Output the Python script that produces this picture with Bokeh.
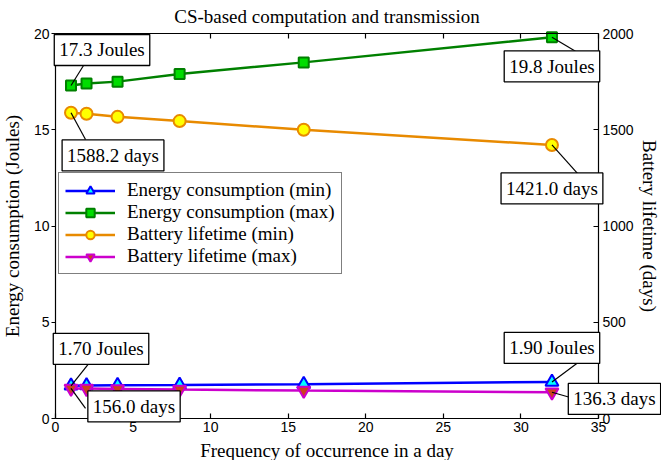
from bokeh.plotting import figure
from bokeh.models import (Range1d, LinearAxis, FixedTicker, Label, Legend,
                          LegendItem)
from bokeh.embed import file_html
from bokeh.resources import INLINE

# Frequency of occurrence per day
freq = [1, 2, 4, 8, 16, 32]
# Energy consumption in Joules (left axis)
energy_min = [1.70, 1.71, 1.73, 1.74, 1.78, 1.90]
energy_max = [17.3, 17.4, 17.5, 17.9, 18.5, 19.8]
# Battery lifetime in days (right axis)
life_min = [1588.2, 1583.0, 1567.0, 1545.0, 1500.0, 1421.0]
life_max = [156.0, 155.2, 153.6, 150.5, 145.0, 136.3]

x_ticks = [0, 5, 10, 15, 20, 25, 30, 35]
left_ticks = [0, 5, 10, 15, 20]
right_ticks = [0, 500, 1000, 1500, 2000]

SERIF = "Liberation Serif"
SANS = "Liberation Sans"
FONT = "19px"

# Canvas and the box spanned by the axes (pixels); the frame fills the
# canvas so that call-outs can hang over the axes without being clipped.
W, H = 661, 460
AX_L, AX_R, AX_T, AX_B = 55, 598, 33, 418
X_MAX, Y_MAX, D_MAX = 35, 20, 2000

px_x = X_MAX / (AX_R - AX_L)          # data units per pixel
px_left = Y_MAX / (AX_B - AX_T)
px_days = D_MAX / (AX_B - AX_T)

x_range = Range1d(-AX_L * px_x, X_MAX + (W - AX_R) * px_x)
y_range = Range1d(-(H - AX_B) * px_left, Y_MAX + AX_T * px_left)
d_range = Range1d(-(H - AX_B) * px_days, D_MAX + AX_T * px_days)

p = figure(width=W, height=H, output_backend="svg", toolbar_location=None,
           x_range=x_range, y_range=y_range, x_axis_location=None,
           y_axis_location=None, min_border=0)
p.extra_y_ranges = {"days": d_range}

p.xgrid.visible = False
p.ygrid.visible = False
p.outline_line_color = None
p.background_fill_color = "white"
p.border_fill_color = "white"


def make_axis(side, ticks, fixed, bounds, tick_in, tick_out, standoff,
              label=None, label_standoff=0, **kw):
    ax = LinearAxis(ticker=FixedTicker(ticks=ticks), fixed_location=fixed,
                    bounds=bounds, **kw)
    ax.axis_line_color = "black"
    ax.axis_line_width = 1.2
    ax.major_tick_line_color = "black"
    ax.major_tick_line_width = 1.2
    ax.major_tick_in = tick_in
    ax.major_tick_out = tick_out
    ax.minor_tick_line_color = None
    ax.major_label_text_font = SANS
    ax.major_label_text_font_size = "14px"
    ax.major_label_text_color = "black"
    ax.major_label_standoff = standoff
    if label:
        ax.axis_label = label
        ax.axis_label_standoff = label_standoff
        ax.axis_label_text_font = SERIF
        ax.axis_label_text_font_size = FONT
        ax.axis_label_text_font_style = "normal"
        ax.axis_label_text_color = "black"
    p.add_layout(ax, side)
    return ax


make_axis("below", x_ticks, 0, (0, X_MAX), 5, 0, 3,
          "Frequency of occurrence in a day", 5)
make_axis("left", left_ticks, 0, (0, Y_MAX), 0, 4, 2,
          "Energy consumption (Joules)", 8)
make_axis("right", right_ticks, X_MAX, (0, D_MAX), 5, 0, 4,
          "Battery lifetime (days)", 2, y_range_name="days")
top = make_axis("above", x_ticks, Y_MAX, (0, X_MAX), 5, 0, 0)
top.major_label_overrides = {t: "" for t in x_ticks}

# Title centred over the axes box
p.add_layout(Label(x=X_MAX / 2, y=Y_MAX, y_offset=17,
                   text="CS-based computation and transmission",
                   text_align="center", text_baseline="middle",
                   text_font=SERIF, text_font_size=FONT, text_color="black"))

# Series
LW = 2.5
l1 = p.line(freq, energy_min, line_color="#0000ff", line_width=LW)
s1 = p.scatter(freq, energy_min, marker="triangle", size=13,
               fill_color="#00ffff", line_color="#0000ff", line_width=2)
l2 = p.line(freq, energy_max, line_color="#008000", line_width=LW)
s2 = p.scatter(freq, energy_max, marker="square", size=10,
               fill_color="#00dd00", line_color="#008000", line_width=2)
l3 = p.line(freq, life_min, line_color="#e88a00", line_width=LW,
            y_range_name="days")
s3 = p.scatter(freq, life_min, marker="circle", size=12,
               fill_color="#ffff00", line_color="#e88a00", line_width=2,
               y_range_name="days")
l4 = p.line(freq, life_max, line_color="#cc00cc", line_width=LW,
            y_range_name="days")
s4 = p.scatter(freq, life_max, marker="inverted_triangle", size=13,
               fill_color="#cc4020", line_color="#cc00cc", line_width=2,
               y_range_name="days")

legend = Legend(items=[
    LegendItem(label="Energy consumption (min)", renderers=[l1, s1]),
    LegendItem(label="Energy consumption (max)", renderers=[l2, s2]),
    LegendItem(label="Battery lifetime (min)", renderers=[l3, s3]),
    LegendItem(label="Battery lifetime (max)", renderers=[l4, s4]),
], location=(AX_L + 3, H - 274))
legend.border_line_color = "black"
legend.border_line_width = 1.5
legend.background_fill_color = "white"
legend.background_fill_alpha = 1.0
legend.label_text_font = SERIF
legend.label_text_font_size = FONT
legend.label_text_color = "black"
legend.padding = 6
legend.spacing = 0
legend.margin = 0
legend.glyph_height = 21
legend.label_height = 21
legend.glyph_width = 50
legend.label_standoff = 12
p.add_layout(legend, "center")

# Value call-outs: (series, index, range name, text, box offset px, leader end px)
callouts = [
    (energy_max, 0, None, "%.1f Joules" % energy_max[0], (31, 35.5), (12.5, 20)),
    (life_min, 0, "days", "%.1f days" % life_min[0], (42, -42.7), (14.5, -26.7)),
    (energy_max, 5, None, "%.1f Joules" % energy_max[5], (0, -29), (23.5, -14)),
    (life_min, 5, "days", "%.1f days" % life_min[5], (0, -43.5), (25.5, -28.5)),
    (energy_min, 0, None, "%.2f Joules" % energy_min[0], (30, 37), (17.5, 22)),
    (life_max, 0, "days", "%.1f days" % life_max[0], (63, -18), (14.5, -20)),
    (energy_min, 5, None, "%.2f Joules" % energy_min[5], (0, 34), (25.5, 19)),
    (life_max, 5, "days", "%.1f days" % life_max[5], (62.5, -6.7), (17.5, -5)),
]

for series, i, rng, text, (bx, by), (lx, ly) in callouts:
    xv, yv = freq[i], series[i]
    sy = px_days if rng == "days" else px_left
    extra = {"y_range_name": rng} if rng else {}
    p.segment(x0=[xv], y0=[yv], x1=[xv + lx * px_x], y1=[yv + ly * sy],
              line_color="black", line_width=1.2, **extra)
    p.add_layout(Label(x=xv, y=yv, x_offset=bx, y_offset=by, text=text,
                       text_align="center", text_baseline="middle",
                       text_font=SERIF, text_font_size=FONT,
                       text_color="black",
                       border_line_color="black", border_line_width=1.3,
                       background_fill_color="white",
                       background_fill_alpha=1.0,
                       padding=5, level="overlay", **extra))

open("out.html", "w").write(file_html(p, INLINE))
